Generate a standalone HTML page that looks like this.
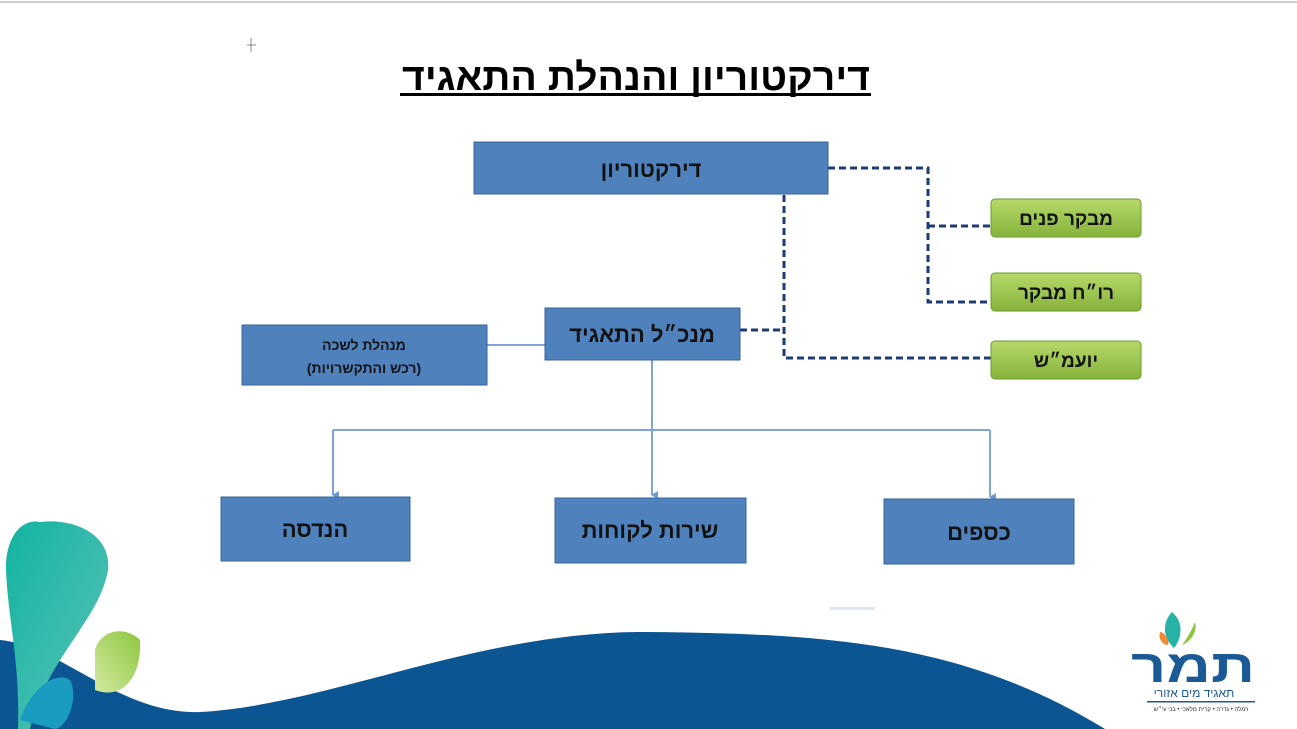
<!DOCTYPE html>
<html><head><meta charset="utf-8"><style>
html,body{margin:0;padding:0;background:#fff;}
svg{display:block}
text{font-family:"Liberation Sans","DejaVu Sans",sans-serif;font-weight:bold;}
</style></head><body>
<svg width="1297" height="729" viewBox="0 0 1297 729" xmlns="http://www.w3.org/2000/svg">
<defs>
<linearGradient id="g" x1="0" y1="0" x2="0" y2="1"><stop offset="0" stop-color="#b5d96a"/><stop offset="1" stop-color="#86b23a"/></linearGradient>
<linearGradient id="tl" x1="0" y1="0" x2="1" y2="1"><stop offset="0" stop-color="#12b3a0"/><stop offset="1" stop-color="#5cc2b8"/></linearGradient>
<linearGradient id="lg" x1="1" y1="0" x2="0" y2="1"><stop offset="0" stop-color="#8cc63f"/><stop offset="1" stop-color="#d4e9a0"/></linearGradient>
<marker id="ar" markerWidth="8" markerHeight="8" refX="4" refY="6" orient="auto" markerUnits="userSpaceOnUse"><path d="M0,0 L8,0 L4,7 z" fill="#6f9bd3"/></marker>
</defs>
<rect x="0" y="0" width="1297" height="729" fill="#fff"/>
<line x1="0" y1="2" x2="1297" y2="2" stroke="#ccc" stroke-width="2"/>
<g stroke="#888" stroke-width="1"><line x1="247" y1="45" x2="256" y2="45"/><line x1="251" y1="38" x2="251" y2="52"/></g>
<text x="636" y="90" text-anchor="middle" font-size="38" textLength="468" lengthAdjust="spacingAndGlyphs" fill="#000" direction="rtl">דירקטוריון והנהלת התאגיד</text>
<rect x="400" y="93" width="471" height="3" fill="#000"/>

<path d="M0,640 C60,645 120,715 200,712 C330,705 480,630 650,632 C820,634 960,640 1105,729 L0,729 Z" fill="#0b5592"/>
<path d="M40,522 C20,518 5,540 6,570 C8,620 20,660 18,729 L30,729 C45,660 100,620 108,570 C112,535 75,518 40,522 Z" fill="url(#tl)"/>
<path d="M95,650 C100,630 125,625 140,640 C142,680 120,700 95,690 Z" fill="url(#lg)"/>
<path d="M20,720 C30,690 55,670 70,680 C80,700 65,729 55,729 Z" fill="#1a9bc0"/>

<g stroke="#1f3b73" stroke-width="3" stroke-dasharray="7,4" fill="none">
<path d="M828,168 H928 V302 H991"/>
<path d="M928,226 H991"/>
<path d="M784,195 V358 H991"/>
<path d="M740,330 H784"/>
</g>
<g stroke="#7fa5d8" stroke-width="2" fill="none">
<path d="M487,345 H545"/>
<path d="M652,360 V495" marker-end="url(#ar)"/>
<path d="M333,430 H990"/>
<path d="M333,430 V495" marker-end="url(#ar)"/>
<path d="M990,430 V497" marker-end="url(#ar)"/>
</g>

<g fill="#4f81bd" stroke="#3a6496" stroke-width="1">
<rect x="474" y="142" width="354" height="52"/>
<rect x="545" y="308" width="195" height="52"/>
<rect x="242" y="325" width="245" height="60"/>
<rect x="221" y="497" width="189" height="64"/>
<rect x="555" y="498" width="191" height="65"/>
<rect x="884" y="499" width="190" height="65"/>
</g>
<g fill="url(#g)" stroke="#6e9a2e" stroke-width="1">
<rect x="991" y="199" width="150" height="38" rx="4"/>
<rect x="991" y="273" width="150" height="38" rx="4"/>
<rect x="991" y="341" width="150" height="38" rx="4"/>
</g>
<g fill="#111" text-anchor="middle" direction="rtl">
<text x="651" y="177" font-size="22">דירקטוריון</text>
<text x="642" y="342" font-size="22">מנכ״ל התאגיד</text>
<text x="364" y="350" font-size="14">מנהלת לשכה</text>
<text x="364" y="373" font-size="14">(רכש והתקשרויות)</text>
<text x="315" y="537" font-size="22">הנדסה</text>
<text x="650" y="538" font-size="22">שירות לקוחות</text>
<text x="979" y="540" font-size="22">כספים</text>
<text x="1066" y="225" font-size="19">מבקר פנים</text>
<text x="1066" y="299" font-size="19">רו״ח מבקר</text>
<text x="1066" y="367" font-size="19">יועמ״ש</text>
</g>

<path d="M1172,612 C1160,625 1165,640 1174,648 C1182,638 1184,622 1172,612 Z" fill="#25b3a7"/>
<path d="M1160,632 C1164,632 1170,640 1168,645 C1162,645 1158,638 1160,632 Z" fill="#f28a30"/>
<path d="M1195,622 C1192,630 1186,640 1182,645 C1190,642 1198,632 1195,622 Z" fill="#8cc63f"/>
<text x="1193" y="682" text-anchor="middle" font-size="46" fill="#1b5a94" direction="rtl" textLength="124" lengthAdjust="spacingAndGlyphs">תמר</text>
<text x="1194" y="697" text-anchor="middle" font-size="12" fill="#1b5a94" direction="rtl" style="font-weight:normal">תאגיד מים אזורי</text>
<rect x="1147" y="701" width="108" height="1.5" fill="#1b5a94"/>
<text x="1201" y="711" text-anchor="middle" font-size="6" fill="#333" direction="rtl" style="font-weight:normal">רמלה • גדרה • קרית מלאכי • בני עי״ש</text>
<rect x="830" y="607" width="45" height="3" fill="#dbe6f2"/>
</svg>
</body></html>
